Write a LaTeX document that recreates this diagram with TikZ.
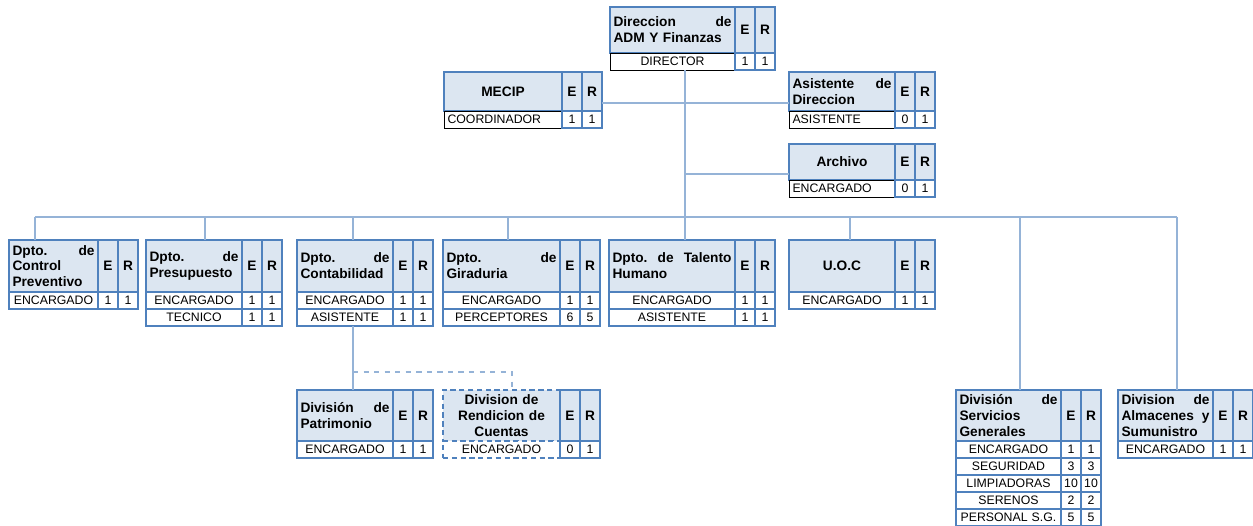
\documentclass[tikz,border=0pt]{standalone}
\usepackage{fontspec}
\setmainfont{Liberation Sans}
\usetikzlibrary{positioning,calc}
\definecolor{azul}{RGB}{79,129,189}
\definecolor{celeste}{RGB}{220,230,241}
\definecolor{conector}{RGB}{149,179,215}
\tikzset{
  cab/.style={draw=azul,line width=1.1pt,fill=celeste,outer sep=0pt,inner xsep=0.07cm,inner ysep=1pt,font=\bfseries\fontsize{7.8}{9}\selectfont},
  celda/.style={draw=azul,line width=1.1pt,fill=white,outer sep=0pt,inner sep=0pt,minimum height=0.34cm,align=center,font=\fontsize{7}{8}\selectfont},
  celdan/.style={draw=black,line width=0.5pt,fill=white,outer sep=0pt,inner sep=0pt,minimum height=0.34cm,font=\fontsize{7}{8}\selectfont},
  linea/.style={draw=conector,line width=0.7pt},
}
% #1 nombre, #2 x, #3 y, #4 ancho px, #5 alto px, #6 estilo titulo, #7 titulo, #8 filas, #9 estilo cargo
\newcommand{\unidad}[9]{%
  \pgfmathsetmacro\anchoT{(#4-7)*0.02}
  \node[cab,#6,minimum width=#4*0.02cm,minimum height=#5*0.02cm,text width=\anchoT cm,anchor=north west] (#1-t) at (#2,#3) {#7};
  \node[cab,minimum width=0.4cm,minimum height=#5*0.02cm,inner xsep=0pt,anchor=north west] (#1-E) at (#1-t.north east) {E};
  \node[cab,minimum width=0.4cm,minimum height=#5*0.02cm,inner xsep=0pt,anchor=north west] (#1-R) at (#1-E.north east) {R};
  \foreach \cargo/\ex/\re [count=\i] in {#8} {
    \node[#9,text width=\anchoT cm,minimum width=#4*0.02cm,anchor=north west] (#1-\i) at ($(#1-t.south west)+(0,{(\i-1)*17})$) {\cargo};
    \node[celda,minimum width=0.4cm,anchor=north west] (#1-\i-E) at (#1-\i.north east) {\ex};
    \node[celda,minimum width=0.4cm,anchor=north west] (#1-\i-R) at (#1-\i-E.north east) {\re};
  }
}

\begin{document}
\begin{tikzpicture}[x=0.02cm,y=-0.02cm]
  \useasboundingbox (0,0) rectangle (1253,526);

  %----- direccion y staff -----
  \unidad{dir}{610}{7}{125}{46}{align=left}{Direccion\hfill de\\ADM Y Finanzas}{DIRECTOR/1/1}{celdan,align=center}
  \unidad{mecip}{444}{72}{118}{39}{align=center}{MECIP}{COORDINADOR/1/1}{celdan,align=left}
  \unidad{asis}{789}{72}{106}{39}{align=left}{Asistente\hfill de\\Direccion}{ASISTENTE/0/1}{celdan,align=left}
  \unidad{arch}{789}{144}{106}{36}{align=center}{Archivo}{ENCARGADO/0/1}{celdan,align=left}

  %----- departamentos -----
  \unidad{ctrl}{9}{240}{89}{52}{align=left}{Dpto.\hfill de\\Control\\Preventivo}{ENCARGADO/1/1}{celda}
  \unidad{pres}{146}{240}{96}{52}{align=left}{Dpto.\hfill de\\Presupuesto}{ENCARGADO/1/1,TECNICO/1/1}{celda}
  \unidad{cont}{297}{240}{96}{52}{align=left}{Dpto.\hfill de\\Contabilidad}{ENCARGADO/1/1,ASISTENTE/1/1}{celda}
  \unidad{gira}{443}{240}{117}{52}{align=left}{Dpto.\hfill de\\Giraduria}{ENCARGADO/1/1,PERCEPTORES/6/5}{celda}
  \unidad{tal}{609}{240}{126}{52}{align=left}{Dpto.\hfill de\hfill Talento\\Humano}{ENCARGADO/1/1,ASISTENTE/1/1}{celda}
  \unidad{uoc}{789}{240}{106}{52}{align=center}{U.O.C}{ENCARGADO/1/1}{celda}

  %----- divisiones -----
  \unidad{pat}{297}{390}{96}{51}{align=left}{División\hfill de\\Patrimonio}{ENCARGADO/1/1}{celda}
  \unidad{rend}{443}{390}{117}{51}{align=center,dash pattern=on 3pt off 2pt}{Division de\\Rendicion de\\Cuentas}{ENCARGADO/0/1}{celda,dash pattern=on 3pt off 2pt}
  \unidad{serv}{956}{390}{105}{51}{align=left}{División\hfill de\\Servicios\\Generales}{ENCARGADO/1/1,SEGURIDAD/3/3,LIMPIADORAS/10/10,SERENOS/2/2,PERSONAL S.G./5/5}{celda}
  \unidad{alm}{1118}{390}{95}{51}{align=left}{Division\hfill de\\Almacenes\hfill y\\Sumunistro}{ENCARGADO/1/1}{celda}

  %----- conectores -----
  \coordinate (bus) at (685,217);
  \coordinate (ramal) at (353,372);
  \draw[linea] ([xshift=0.26cm]tal-t.north) -- ([xshift=0.26cm]tal-t.north |- dir-1.south);
  \draw[linea] ([yshift=-0.23cm]mecip-R.east) -- ([yshift=-0.23cm]asis-t.west);
  \draw[linea] ([yshift=-0.24cm]arch-t.west) -- ([yshift=-0.24cm]arch-t.west -| bus);
  \draw[linea] ([xshift=-0.37cm]ctrl-t.north |- bus) -- ([xshift=0.23cm]alm-t.north |- bus);
  \foreach \n/\dx in {ctrl/-0.37,pres/0.22,cont/0.16,gira/0.13,uoc/0.16,serv/0.23,alm/0.23}
    \draw[linea] ([xshift=\dx cm]\n-t.north) -- ([xshift=\dx cm]\n-t.north |- bus);
  \draw[linea] ([xshift=0.16cm]pat-t.north) -- ([xshift=0.16cm]pat-t.north |- cont-2.south);
  \draw[linea,dashed] (ramal) -| ([xshift=0.21cm]rend-t.north);
\end{tikzpicture}
\end{document}
